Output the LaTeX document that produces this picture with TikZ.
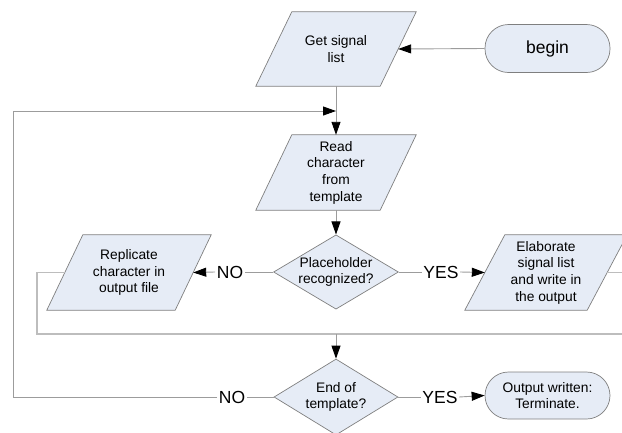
\documentclass[tikz,border=0pt]{standalone}
\usepackage{fontspec}
\setmainfont{Liberation Sans}
\usetikzlibrary{arrows.meta,shapes.geometric,backgrounds}
\definecolor{boxfill}{HTML}{E6ECF6}
\definecolor{boxline}{HTML}{7F7F7F}
\definecolor{conn}{HTML}{9C9C9C}
\definecolor{grp}{HTML}{BDBDBD}
\newcommand\drawpara[2]{%
  \begin{scope}[on background layer]
  \filldraw[fill=boxfill,draw=boxline,line width=0.7pt]
    ([xshift=#2]#1.north west) -- ([xshift=#2]#1.north east) --
    ([xshift=-#2]#1.south east) -- ([xshift=-#2]#1.south west) -- cycle;
  \end{scope}}
\begin{document}
\begin{tikzpicture}[x=1pt,y=-1pt,
  txt/.style={font=\fontsize{13.8}{16.7}\selectfont,align=center,text=black},
  parabox/.style={txt,shape=rectangle,inner sep=0pt,minimum width=124pt,minimum height=74pt},
  decision/.style={txt,shape=diamond,aspect=1.68,inner sep=0pt,fill=boxfill,draw=boxline,line width=0.7pt,minimum width=124pt,minimum height=75pt},
  terminal/.style={txt,shape=rectangle,rounded corners=23.5pt,fill=boxfill,draw=boxline,line width=0.7pt,minimum width=125pt,minimum height=48pt,inner sep=0pt},
  lbl/.style={font=\fontsize{17.5}{20}\selectfont,inner sep=1.5pt,text=black},
  line/.style={draw=conn,line width=0.9pt},
  grpline/.style={draw=grp,line width=1.3pt},
  arr/.style={line,-{Triangle[length=13pt,width=9pt,black]}}
]
\useasboundingbox (0,0) rectangle (622,432);

% nodes
\node[parabox] (gs) at (336,49) {Get signal\\list};
\node[terminal,font=\fontsize{17.5}{20}\selectfont] (begin) at (547.5,48.5) {begin};
\node[parabox,minimum height=75pt] (rd) at (336,172.5) {Read\\character\\from\\template};
\node[decision,minimum height=74pt] (ph) at (336,272) {Placeholder\\recognized?};
\node[parabox,minimum height=75pt,minimum width=128pt] (rep) at (129,272.5) {Replicate\\character in\\output file};
\node[parabox,minimum height=75pt,minimum width=122pt] (ela) at (546,272.5) {Elaborate\\signal list\\and write in\\the output};
\node[decision,minimum height=76pt] (end) at (336,397) {End of\\template?};
\node[terminal,minimum height=47pt] (out) at (547.5,395.5) {Output written:\\Terminate.};

\drawpara{gs}{18pt}
\drawpara{rd}{18pt}
\drawpara{rep}{18pt}
\drawpara{ela}{20pt}

% labels
\node[lbl] (no1) at (230,272) {NO};
\node[lbl] (yes1) at (441,272) {YES};
\node[lbl] (no2) at (232,397) {NO};
\node[lbl] (yes2) at (440,397) {YES};

% coordinates
\coordinate (loopin) at (336,111);
\coordinate (merge) at (336,334);
\coordinate (gl) at (37,334);
\coordinate (gr) at (622,334);
\coordinate (er) at (622,272.5);

% connectors
\draw[arr] (begin.west) -- (gs.east);
\draw[arr] (gs.south) -- (rd.north);
\draw[arr] (rd.south) -- (ph.north);
\draw[line] (ph.west) -- (no1.east);
\draw[arr] (no1.west) -- (rep.east);
\draw[line] (ph.east) -- (yes1.west);
\draw[arr] (yes1.east) -- (ela.west);
\draw[grpline] (rep.west) -| (gl) -- (gr);
\draw[grpline] (ela.east) -- (er);
\draw[arr] (merge) -- (end.north);
\draw[line] (end.east) -- (yes2.west);
\draw[arr] (yes2.east) -- (out.west);
\draw[line] (end.west) -- (no2.east);
\draw[arr] (no2.west) -- (13,397) -- (13,111) -- (loopin);
\end{tikzpicture}
\end{document}
